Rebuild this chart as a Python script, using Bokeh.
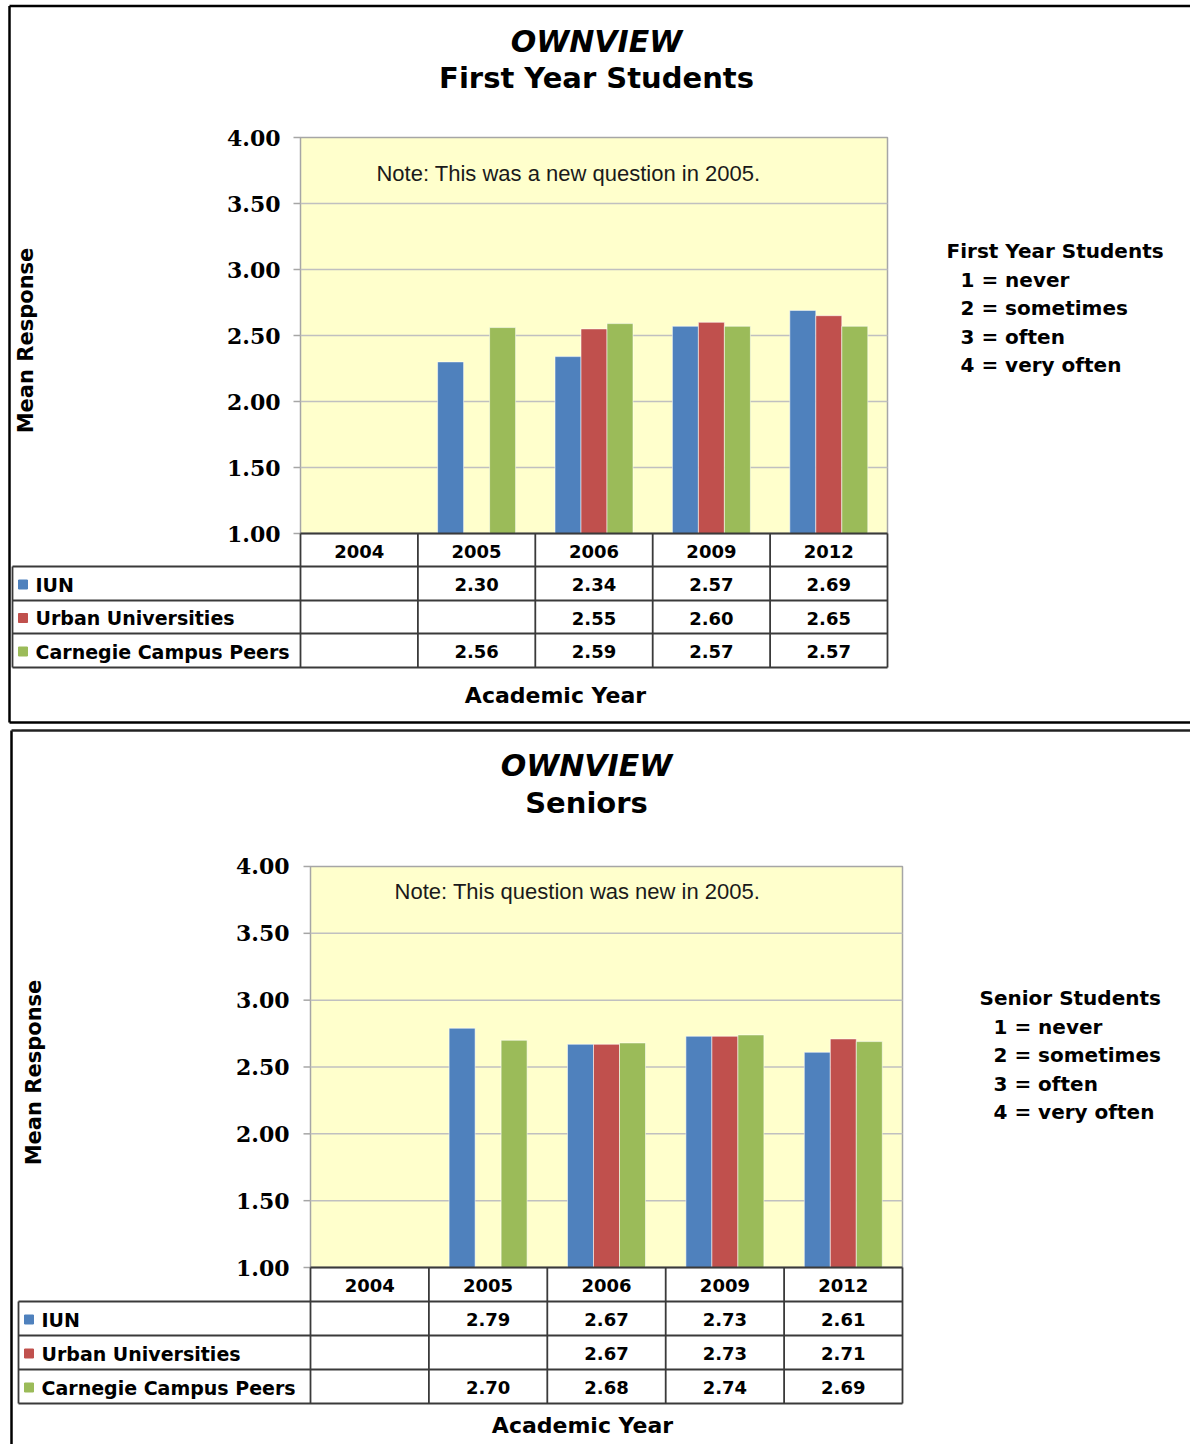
import math
from bokeh.plotting import figure
from bokeh.models import Range1d, ColumnDataSource
from bokeh.layouts import column
from bokeh.core.properties import value
from bokeh.embed import file_html
from bokeh.resources import INLINE

# ---------------- data ----------------
years = ["2004", "2005", "2006", "2009", "2012"]
series_names = ["IUN", "Urban Universities", "Carnegie Campus Peers"]
series_colors = ["#4F81BD", "#C0504D", "#9BBB59"]
y_ticks = [1.0, 1.5, 2.0, 2.5, 3.0, 3.5, 4.0]

fy_iun = [None, 2.30, 2.34, 2.57, 2.69]
fy_urban = [None, None, 2.55, 2.60, 2.65]
fy_carnegie = [None, 2.56, 2.59, 2.57, 2.57]

sr_iun = [None, 2.79, 2.67, 2.73, 2.61]
sr_urban = [None, None, 2.67, 2.73, 2.71]
sr_carnegie = [None, 2.70, 2.68, 2.74, 2.69]

fy_scale = ["First Year Students", "1 = never", "2 = sometimes", "3 = often", "4 = very often"]
sr_scale = ["Senior Students", "1 = never", "2 = sometimes", "3 = often", "4 = very often"]

SANS = value("DejaVu Sans")
SERIF = value("DejaVu Serif")
ARIAL = value("Liberation Sans")

PAGE_LEFT = 0
FIG_W = 1190


def make_panel(cfg, data, title1, title2, note, scale_lines):
    top, H = cfg["fig_top"], cfg["fig_h"]
    x0, cw, y1, ppu = cfg["x0"], cfg["cw"], cfg["y1"], cfg["ppu"]

    def X(px):
        return (px - x0) / cw

    def Y(py):
        return 1 + (y1 - py) / ppu

    p = figure(width=FIG_W, height=H,
               x_range=Range1d(X(PAGE_LEFT), X(PAGE_LEFT + FIG_W)),
               y_range=Range1d(Y(top + H), Y(top)),
               x_axis_location=None, y_axis_location=None,
               toolbar_location=None, output_backend="svg", min_border=0,
               background_fill_color="white", border_fill_color="white")
    p.outline_line_color = None
    p.grid.visible = False

    ncat = len(years)

    # panel border
    bl = cfg["border_left"]
    p.segment(x0=[X(bl)], y0=[Y(cfg["border_top"])], x1=[X(bl)],
              y1=[Y(cfg["border_bottom"])], line_color="black", line_width=2.5)
    p.segment(x0=[X(bl)], y0=[Y(cfg["border_top"])], x1=[X(PAGE_LEFT + FIG_W)],
              y1=[Y(cfg["border_top"])], line_color=cfg.get("top_color", "black"),
              line_width=2.5)
    if cfg.get("has_bottom", False):
        p.segment(x0=[X(bl)], y0=[Y(cfg["border_bottom"])], x1=[X(PAGE_LEFT + FIG_W)],
                  y1=[Y(cfg["border_bottom"])], line_color="black", line_width=2.5)

    # plot area
    p.quad(left=[0], right=[ncat], bottom=[y_ticks[0]], top=[y_ticks[-1]],
           fill_color="#FFFFCC", line_color="#A6A6A6", line_width=1.5)
    inner = y_ticks[1:-1]
    p.segment(x0=[0] * len(inner), y0=inner, x1=[ncat] * len(inner), y1=inner,
              line_color="#C0C0C0", line_width=1.5)
    # tick marks
    p.segment(x0=[X(x0 - 7)] * len(y_ticks), y0=y_ticks, x1=[0] * len(y_ticks), y1=y_ticks,
              line_color="#A6A6A6", line_width=1.5)
    p.text(x=[X(x0 - cfg["tick_gap"])] * len(y_ticks), y=y_ticks,
           text=["%.2f" % t for t in y_ticks], text_align="right", text_baseline="middle",
           text_font=SERIF, text_font_style="bold", text_font_size="22px", text_color="black")

    # bars
    bw = 26.0 / cw
    offsets = [-bw, 0.0, bw]
    for vals, col, off in zip(data, series_colors, offsets):
        xs = [i + 0.5 + off for i, v in enumerate(vals) if v is not None]
        ts = [v for v in vals if v is not None]
        src = ColumnDataSource(dict(x=xs, top=ts))
        p.vbar(x="x", top="top", bottom=y_ticks[0], width=bw, source=src,
               fill_color=col, line_color="white", line_alpha=0.55, line_width=1)

    # table
    rows = cfg["rows"]
    lc = "#3A3A3A"
    lw = 1.8
    p.segment(x0=list(range(ncat + 1)), y0=[Y(rows[0])] * (ncat + 1),
              x1=list(range(ncat + 1)), y1=[Y(rows[-1])] * (ncat + 1),
              line_color=lc, line_width=lw)
    p.segment(x0=[0], y0=[Y(rows[0])], x1=[ncat], y1=[Y(rows[0])], line_color=lc, line_width=lw)
    hl = rows[1:]
    p.segment(x0=[X(cfg["tbl_left"])] * len(hl), y0=[Y(r) for r in hl],
              x1=[ncat] * len(hl), y1=[Y(r) for r in hl], line_color=lc, line_width=lw)
    p.segment(x0=[X(cfg["tbl_left"])], y0=[Y(rows[1])], x1=[X(cfg["tbl_left"])],
              y1=[Y(rows[-1])], line_color=lc, line_width=lw)

    hy = Y((rows[0] + rows[1]) / 2 + 1)
    p.text(x=[i + 0.5 for i in range(ncat)], y=[hy] * ncat, text=years,
           text_align="center", text_baseline="middle", text_font=SANS,
           text_font_style="bold", text_font_size="18px", text_color="black")

    for k, (vals, name, col) in enumerate(zip(data, series_names, series_colors)):
        ry = Y((rows[k + 1] + rows[k + 2]) / 2 + 1)
        xs = [i + 0.5 for i, v in enumerate(vals) if v is not None]
        tx = ["%.2f" % v for v in vals if v is not None]
        p.text(x=xs, y=[ry] * len(xs), text=tx, text_align="center", text_baseline="middle",
               text_font=SANS, text_font_style="bold", text_font_size="18px", text_color="black")
        p.scatter(x=[X(cfg["tbl_left"] + 10.5)], y=[ry], marker="square", size=9,
                  fill_color=col, line_color=col)
        p.text(x=[X(cfg["tbl_left"] + 23)], y=[ry], text=[name], text_align="left",
               text_baseline="middle", text_font=SANS, text_font_style="bold",
               text_font_size="19px", text_color="black")

    # titles
    p.text(x=[X(cfg["title_x"])], y=[Y(cfg["title1_y"])], text=[title1], text_align="center",
           text_baseline="middle", text_font=SANS, text_font_style="bold italic",
           text_font_size="30px", text_color="black")
    p.text(x=[X(cfg["title_x"])], y=[Y(cfg["title2_y"])], text=[title2], text_align="center",
           text_baseline="middle", text_font=SANS, text_font_style="bold",
           text_font_size="29px", text_color="black")
    # note
    p.text(x=[X(cfg["note_x"])], y=[Y(cfg["note_y"])], text=[note], text_align="center",
           text_baseline="middle", text_font=ARIAL, text_font_size="22px", text_color="#1A1A1A")
    # axis titles
    p.text(x=[X(cfg["ytitle_x"])], y=[Y(cfg["ytitle_y"])], text=["Mean Response"],
           angle=math.pi / 2, text_align="center", text_baseline="middle", text_font=SANS,
           text_font_style="bold", text_font_size="21px", text_color="black")
    p.text(x=[X(cfg["xtitle_x"])], y=[Y(cfg["xtitle_y"])], text=["Academic Year"],
           text_align="center", text_baseline="middle", text_font=SANS,
           text_font_style="bold", text_font_size="22px", text_color="black")
    # response scale
    p.text(x=[X(cfg["scale_x"])], y=[Y(cfg["scale_y"])], text=[scale_lines[0]],
           text_align="left", text_baseline="middle", text_font=SANS, text_font_style="bold",
           text_font_size="20px", text_color="black")
    items = scale_lines[1:]
    p.text(x=[X(cfg["scale_x"] + 14)] * len(items),
           y=[Y(cfg["scale_y"] + 29 + 28.6 * k) for k in range(len(items))], text=items,
           text_align="left", text_baseline="middle", text_font=SANS, text_font_style="bold",
           text_font_size="20px", text_color="black")
    return p


cfg_top = dict(fig_top=0, fig_h=725, x0=300, cw=117.4, y1=533, ppu=132.0,
               rows=[533, 566, 600, 633, 667], tbl_left=12, tick_gap=20,
               border_left=9, border_top=5.5, border_bottom=722, has_bottom=True,
               title_x=596, title1_y=41, title2_y=77, note_x=571, note_y=173,
               ytitle_x=25, ytitle_y=340, xtitle_x=555, xtitle_y=695,
               scale_x=946, scale_y=250)
cfg_bot = dict(fig_top=725, fig_h=719, x0=310, cw=118.4, y1=1267, ppu=133.67,
               rows=[1267, 1301, 1335, 1369, 1403], tbl_left=18, tick_gap=21,
               border_left=11, border_top=730, border_bottom=1444, has_bottom=False,
               top_color="#222222",
               title_x=586, title1_y=765, title2_y=802, note_x=580, note_y=891,
               ytitle_x=33, ytitle_y=1072, xtitle_x=582, xtitle_y=1425,
               scale_x=979, scale_y=997)

p1 = make_panel(cfg_top, [fy_iun, fy_urban, fy_carnegie], "OWNVIEW", "First Year Students",
                "Note:  This was a new question in 2005.", fy_scale)
p2 = make_panel(cfg_bot, [sr_iun, sr_urban, sr_carnegie], "OWNVIEW", "Seniors",
                "Note:  This question was new in 2005.", sr_scale)

layout = column(p1, p2, spacing=0)
open("out.html", "w").write(file_html(layout, INLINE))
